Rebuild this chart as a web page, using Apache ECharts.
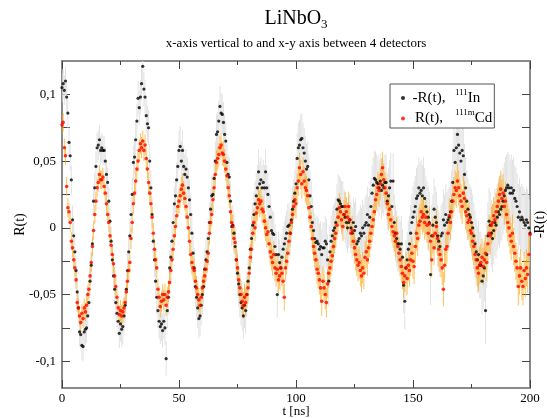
<!DOCTYPE html>
<html><head><meta charset="utf-8">
<script src="https://cdn.jsdelivr.net/npm/echarts@6/dist/echarts.min.js"></script>
<style>html,body{margin:0;padding:0;background:#fff}#c{width:547px;height:418px}</style>
</head><body><div id="c"></div>
<script>
// time grid step (ns)
const T_STEP = 0.5;
// -R(t), 111In  (black)
const rIn = [
0.105,0.108,0.103,0.110,0.098,0.086,0.064,0.054,0.036,0.006,
-0.006,-0.018,-0.032,-0.048,-0.060,-0.078,-0.080,-0.088,-0.089,-0.078,
-0.076,-0.075,-0.066,-0.056,-0.040,-0.028,-0.012,0.020,0.030,0.046,
0.060,0.062,0.066,0.058,0.060,0.058,0.058,0.050,0.040,0.034,
0.020,0.005,-0.010,-0.024,-0.036,-0.046,-0.056,-0.064,-0.070,-0.079,
-0.072,-0.076,-0.074,-0.066,-0.058,-0.046,-0.032,-0.018,-0.006,0.010,
0.025,0.049,0.053,0.066,0.080,0.097,0.090,0.098,0.108,0.121,
0.104,0.098,0.084,0.078,0.075,0.050,0.030,0.010,-0.010,-0.024,
-0.040,-0.052,-0.062,-0.070,-0.074,-0.072,-0.077,-0.070,-0.075,-0.098,
-0.062,-0.052,-0.030,-0.022,-0.010,0.004,0.018,0.024,0.036,0.046,
0.058,0.061,0.050,0.058,0.046,0.040,0.044,0.038,0.030,0.021,
0.010,-0.004,-0.019,-0.030,-0.044,-0.052,-0.060,-0.068,-0.066,-0.058,
-0.050,-0.044,-0.031,-0.024,-0.018,-0.008,0.004,0.014,0.024,0.025,
0.037,0.050,0.070,0.072,0.080,0.091,0.086,0.085,0.079,0.070,
0.065,0.049,0.040,0.038,0.020,0.001,0.002,-0.004,-0.014,-0.024,
-0.034,-0.042,-0.050,-0.056,-0.060,-0.066,-0.058,-0.062,-0.050,-0.040,
-0.030,-0.016,-0.008,0.002,0.010,0.018,0.024,0.030,0.042,0.033,
0.036,0.030,0.034,0.030,0.042,0.030,0.025,0.016,0.008,-0.002,
-0.004,-0.005,-0.014,-0.020,-0.050,-0.020,-0.026,-0.030,-0.022,-0.016,
-0.012,-0.008,-0.004,0.001,0.002,-0.004,0.006,0.014,0.020,0.026,
0.033,0.052,0.060,0.062,0.066,0.067,0.060,0.056,0.050,0.044,
0.046,0.036,0.024,0.016,0.004,-0.002,-0.008,-0.011,-0.010,-0.012,
-0.016,-0.014,-0.020,-0.015,-0.015,-0.010,-0.012,-0.024,-0.040,-0.018,
-0.010,-0.006,-0.002,0.000,0.004,0.014,0.021,0.020,0.018,0.016,
0.016,0.010,0.008,0.004,0.000,0.004,0.006,0.000,-0.004,0.004,
-0.002,0.001,-0.012,-0.010,-0.008,-0.004,-0.006,0.000,-0.004,0.002,
0.004,0.010,0.002,0.008,0.016,0.026,0.032,0.037,0.036,0.034,
0.033,0.030,0.035,0.028,0.032,0.030,0.034,0.034,0.020,0.024,
0.030,0.035,0.016,0.035,0.004,-0.004,-0.008,-0.012,-0.012,-0.016,
-0.012,-0.022,-0.043,-0.055,-0.030,-0.024,-0.016,-0.012,-0.004,0.004,
0.008,0.012,0.016,0.022,0.024,0.030,0.026,0.028,0.024,0.030,
0.022,0.016,0.012,0.008,0.004,-0.035,-0.006,0.002,0.014,0.008,
0.004,-0.006,-0.010,-0.014,-0.006,-0.004,0.006,0.002,0.010,0.004,
0.006,0.008,0.012,0.020,0.034,0.058,0.049,0.060,0.070,0.062,
0.056,0.050,0.058,0.054,0.040,0.030,0.020,0.014,0.010,0.008,
0.004,0.000,-0.006,-0.012,-0.018,-0.024,-0.020,-0.028,-0.028,-0.040,
-0.036,-0.030,-0.062,-0.020,-0.006,0.005,0.002,-0.004,-0.008,-0.002,
0.004,0.002,0.008,0.012,0.010,0.014,0.016,0.020,0.024,0.028,
0.030,0.032,0.030,0.026,0.030,0.026,0.028,0.022,0.020,0.016,
0.008,0.012,0.006,0.008,0.006,0.004,0.002,0.006,0.004,0.000,
-0.004];
// R(t), 111mCd  (red)
const rCd = [
0.077,0.079,0.060,0.054,0.031,0.015,0.012,0.004,-0.010,-0.015,
-0.024,-0.030,-0.039,-0.056,-0.060,-0.066,-0.071,-0.064,-0.068,-0.060,
-0.063,-0.058,-0.050,-0.046,-0.036,-0.026,-0.014,-0.002,0.010,0.020,
0.030,0.034,0.040,0.036,0.036,0.038,0.031,0.026,0.018,0.010,
0.004,-0.006,-0.013,-0.020,-0.027,-0.036,-0.044,-0.052,-0.060,-0.065,
-0.062,-0.066,-0.063,-0.060,-0.056,-0.048,-0.040,-0.032,-0.026,-0.008,
0.004,0.018,0.026,0.035,0.044,0.050,0.058,0.063,0.060,0.065,
0.058,0.062,0.052,0.044,0.034,0.026,0.018,0.008,-0.004,-0.016,
-0.024,-0.030,-0.046,-0.052,-0.059,-0.055,-0.050,-0.054,-0.050,-0.058,
-0.052,-0.048,-0.041,-0.032,-0.024,-0.016,-0.006,0.001,0.009,0.016,
0.020,0.024,0.029,0.032,0.026,0.022,0.016,0.008,0.000,-0.010,
-0.020,-0.026,-0.030,-0.032,-0.040,-0.045,-0.050,-0.054,-0.058,-0.052,
-0.045,-0.040,-0.036,-0.031,-0.025,-0.019,-0.004,0.004,0.010,0.021,
0.030,0.040,0.049,0.052,0.055,0.060,0.062,0.056,0.055,0.050,
0.044,0.039,0.030,0.024,0.012,0.004,0.001,-0.008,-0.011,-0.024,
-0.030,-0.039,-0.045,-0.050,-0.055,-0.058,-0.052,-0.056,-0.050,-0.045,
-0.034,-0.022,-0.016,-0.004,0.004,0.000,0.011,0.015,0.021,0.018,
0.020,0.014,0.012,0.005,0.000,-0.005,-0.003,-0.012,-0.018,-0.022,
-0.026,-0.020,-0.030,-0.034,-0.031,-0.039,-0.036,-0.030,-0.034,-0.040,
-0.052,-0.030,-0.025,-0.019,-0.010,-0.004,0.004,0.010,0.016,0.021,
0.018,0.030,0.035,0.045,0.040,0.033,0.042,0.035,0.030,0.028,
0.024,0.015,0.008,0.001,-0.008,-0.014,-0.019,-0.024,-0.031,-0.034,
-0.039,-0.045,-0.055,-0.040,-0.045,-0.050,-0.056,-0.042,-0.034,-0.030,
-0.025,-0.021,-0.014,-0.008,-0.004,0.002,0.008,0.015,0.012,0.006,
0.001,0.010,0.016,0.012,0.008,0.016,0.006,-0.004,-0.002,-0.010,
-0.015,-0.020,-0.024,-0.028,-0.026,-0.032,-0.036,-0.030,-0.034,-0.022,
-0.018,-0.024,-0.015,-0.010,-0.004,0.001,0.006,0.012,0.021,0.025,
0.030,0.028,0.033,0.040,0.045,0.036,0.030,0.026,0.018,0.010,
0.014,0.006,0.001,-0.003,-0.006,-0.010,-0.004,-0.014,-0.019,-0.024,
-0.029,-0.034,-0.041,-0.036,-0.030,-0.038,-0.028,-0.032,-0.024,-0.019,
-0.025,-0.029,-0.014,-0.004,-0.008,0.002,0.005,0.012,0.008,0.010,
0.004,0.008,0.002,-0.004,0.003,-0.010,-0.024,-0.006,-0.015,-0.004,
0.001,-0.008,-0.016,-0.020,-0.024,-0.030,-0.046,-0.028,-0.016,-0.014,
-0.004,0.009,0.004,0.012,0.020,0.025,0.030,0.028,0.035,0.030,
0.024,0.020,0.016,0.026,0.022,0.012,0.009,0.004,0.006,-0.002,
-0.004,-0.010,-0.014,-0.020,-0.024,-0.030,-0.034,-0.028,-0.026,-0.022,
-0.029,-0.024,-0.019,-0.026,-0.012,-0.004,-0.006,0.002,0.004,0.009,
0.006,0.012,0.016,0.020,0.025,0.029,0.022,0.026,0.016,0.020,
0.010,0.004,0.000,-0.006,-0.010,-0.004,-0.014,-0.019,-0.025,-0.030,
-0.044,-0.036,-0.030,-0.040,-0.044,-0.032,-0.038,-0.030,-0.035,-0.020,
-0.005];
// error-bar half lengths, per 25 ns segment
const ERR_SEG = 25;
const errInSeg = [0.011,0.013,0.015,0.017,0.019,0.021,0.023,0.025];
const errCdSeg = [0.007,0.008,0.009,0.010,0.011,0.012,0.013,0.014];
const yLabelTicks = [-0.1,-0.05,0,0.05,0.1];
const yTicks = [-0.1,-0.075,-0.05,-0.025,0,0.025,0.05,0.075,0.1];
const nameIn = '-R(t), 111In';
const nameCd = 'R(t), 111mCd';

const SERIF = '"Liberation Serif","DejaVu Serif",serif';
function segErr(arr, t){ return arr[Math.min(arr.length-1, Math.floor(t/ERR_SEG))]; }
function pts(vals){ return vals.map((v,i)=>[i*T_STEP, v]); }
function bars(vals, errs){ return vals.map((v,i)=>{ const t=i*T_STEP, e=segErr(errs,t); return [t, v-e, v+e]; }); }
function barRender(color){
  return function(params, api){
    const t = api.value(0);
    const a = api.coord([t, api.value(1)]);
    const b = api.coord([t, api.value(2)]);
    return {type:'line', silent:true, shape:{x1:a[0],y1:a[1],x2:b[0],y2:b[1]}, style:{stroke:color, lineWidth:1}};
  };
}
const fmt = v => String(Math.round(v*1000)/1000).replace('.', ',');
const axisLine = {show:true, onZero:false, lineStyle:{color:'#8a8a8a', width:2}};
const tickStyle = {color:'#444', width:1};

const chart = echarts.init(document.getElementById('c'), null, {renderer:'canvas'});
chart.setOption({
  animation:false,
  backgroundColor:'#fff',
  title:[
    {text:'LiNbO{s|3}', left:296, top:7, textAlign:'center', padding:0,
     textStyle:{fontFamily:SERIF, fontSize:20, fontWeight:'normal', color:'#000', lineHeight:24,
       rich:{s:{fontFamily:SERIF, fontSize:13, color:'#000', lineHeight:12, verticalAlign:'bottom'}}}},
    {text:'x-axis vertical to and x-y axis between 4 detectors', left:296, top:37, textAlign:'center', padding:0,
     textStyle:{fontFamily:SERIF, fontSize:13, fontWeight:'normal', color:'#000'}}
  ],
  legend:{
    left:390, top:84, orient:'vertical', itemGap:3, itemWidth:4, itemHeight:4,
    padding:[4,2,2,11], borderColor:'#555', borderWidth:1, backgroundColor:'#fff',
    data:[{name:nameIn, icon:'circle'},{name:nameCd, icon:'circle'}],
    formatter: n => n===nameIn ? '{a|-R(t),}{s|111}{b|In}' : '{a|R(t),}{s|111m}{b|Cd}',
    textStyle:{fontFamily:SERIF, fontSize:15, color:'#000',
      rich:{
        a:{fontFamily:SERIF, fontSize:15, color:'#000', width:38, align:'right', lineHeight:20},
        s:{fontFamily:SERIF, fontSize:9, color:'#000', lineHeight:11, verticalAlign:'top', padding:[0,0,0,7]},
        b:{fontFamily:SERIF, fontSize:15, color:'#000', lineHeight:20}
      }}
  },
  grid:{left:62, right:17, top:61, bottom:30, outerBoundsMode:'none', containLabel:false},
  xAxis:[
    {type:'value', min:0, max:200, interval:50, position:'bottom',
     name:'t [ns]', nameLocation:'middle', nameGap:17, nameMoveOverlap:false,
     nameTextStyle:{fontFamily:SERIF, fontSize:13, color:'#000'},
     axisLine, axisTick:{show:true, inside:true, length:8, lineStyle:tickStyle},
     minorTick:{show:true, splitNumber:2, length:4, lineStyle:tickStyle},
     axisLabel:{fontFamily:SERIF, fontSize:13, color:'#000', margin:4},
     splitLine:{show:false}},
    {type:'value', min:0, max:200, interval:50, position:'top',
     axisLine, axisTick:{show:true, inside:true, length:8, lineStyle:tickStyle},
     minorTick:{show:true, splitNumber:2, length:4, lineStyle:tickStyle},
     axisLabel:{show:false}, splitLine:{show:false}}
  ],
  yAxis:[
    {type:'value', min:-0.12, max:0.125, position:'left',
     name:'R(t)', nameLocation:'middle', nameGap:35, nameRotate:90, nameMoveOverlap:false,
     nameTextStyle:{fontFamily:SERIF, fontSize:14, color:'#000'},
     axisLine, axisTick:{show:true, inside:true, length:8, customValues:yTicks, lineStyle:tickStyle},
     axisLabel:{fontFamily:SERIF, fontSize:13, color:'#000', margin:6, customValues:yLabelTicks, formatter:fmt},
     splitLine:{show:false}},
    {type:'value', min:-0.12, max:0.125, position:'right',
     name:'-R(t)', nameLocation:'middle', nameGap:3, nameRotate:90, nameMoveOverlap:false,
     nameTextStyle:{fontFamily:SERIF, fontSize:14, color:'#000'},
     axisLine, axisTick:{show:true, inside:true, length:8, customValues:yTicks, lineStyle:tickStyle},
     axisLabel:{show:false}, splitLine:{show:false}}
  ],
  series:[
    {type:'custom', name:'errIn', renderItem:barRender('#e2e2e2'), data:bars(rIn, errInSeg),
     encode:{x:0, y:[1,2]}, clip:true, silent:true},
    {type:'scatter', name:nameIn, data:pts(rIn), symbol:'circle', symbolSize:3.2,
     itemStyle:{color:'#000'}, clip:true, silent:true},
    {type:'custom', name:'errCd', renderItem:barRender('rgba(255,168,20,0.7)'), data:bars(rCd, errCdSeg),
     encode:{x:0, y:[1,2]}, clip:true, silent:true},
    {type:'scatter', name:nameCd, data:pts(rCd), symbol:'circle', symbolSize:3.6,
     itemStyle:{color:'#ff0000'}, clip:true, silent:true}
  ]
});
</script></body></html>
